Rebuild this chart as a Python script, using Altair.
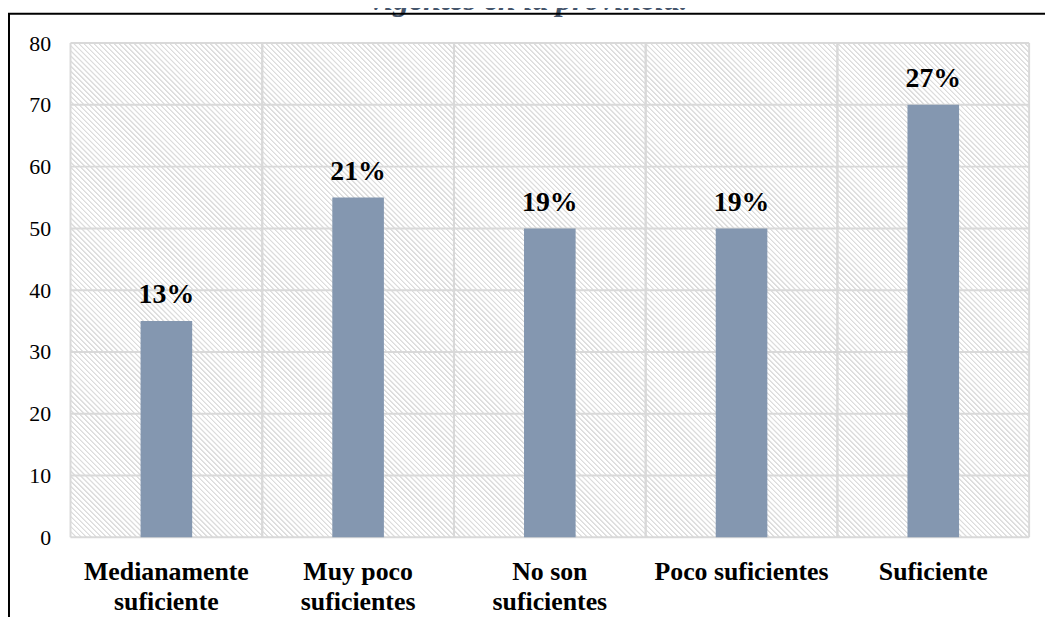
import math
import altair as alt
import pandas as pd

# ---- data ----
categories = ["Medianamente\nsuficiente", "Muy poco\nsuficientes", "No son\nsuficientes",
              "Poco suficientes", "Suficiente"]
values = [35, 55, 50, 50, 70]
pct_labels = ["13%", "21%", "19%", "19%", "27%"]
y_ticks = [0, 10, 20, 30, 40, 50, 60, 70, 80]
title_text = ["vigentes en la provincia."]

df = pd.DataFrame({"cat": categories, "value": values, "pct": pct_labels})
ticks_df = pd.DataFrame({"t": y_ticks})
one_df = pd.DataFrame({"title": title_text})

W, H = 966, 498
FONT = "Liberation Serif"
GRID = "#d9d9d9"
BAR = "#8497B0"

# ---- hatched plot background (diagonal stripes as a linear gradient) ----
r = H / W
tmax = (1 + r) / (1 + r * r)
D = (W + H) / math.sqrt(2)
period = 3.6
n = int(D / period)
stops = []
for k in range(n):
    o = k / n
    stops += [
        {"offset": o, "color": "#dcdcdc"},
        {"offset": o + 0.18 / n, "color": "#dcdcdc"},
        {"offset": o + 0.45 / n, "color": "#ffffff"},
        {"offset": o + 0.92 / n, "color": "#ffffff"},
    ]
hatch = {"gradient": "linear", "x1": 0, "y1": 1, "x2": tmax, "y2": 1 - tmax * r,
         "stops": stops}

xscale = alt.Scale(paddingInner=0, paddingOuter=0)
yscale = alt.Scale(domain=[0, 80], nice=False)
xaxis = alt.Axis(title=None, labelExpr="split(datum.label, '\\n')", labelFont=FONT,
                 labelFontSize=26, labelFontWeight="bold", labelColor="black",
                 labelPadding=22, labelLineHeight=30, labelAngle=0, ticks=False,
                 domain=False, grid=False)
yaxis = alt.Axis(title=None, values=y_ticks, labelFont=FONT, labelFontSize=22,
                 labelColor="black", labelPadding=20, ticks=False, domain=False,
                 grid=False)

def X(band=None):
    if band is None:
        return alt.X("cat:N", sort=categories, scale=xscale, axis=xaxis)
    return alt.X("cat:N", sort=categories, scale=xscale, axis=xaxis, bandPosition=band)

background = alt.Chart(one_df).mark_rect(fill=hatch).encode(
    x=alt.value(0), x2=alt.value("width"), y=alt.value(0), y2=alt.value("height"))

hgrid = alt.Chart(ticks_df).mark_rule(color=GRID, strokeWidth=2).encode(
    y=alt.Y("t:Q", scale=yscale, axis=yaxis), x=alt.value(0), x2=alt.value("width"))

vgrid0 = alt.Chart(df).mark_rule(color=GRID, strokeWidth=2).encode(
    x=X(0), y=alt.value(0), y2=alt.value("height"))
vgrid1 = alt.Chart(df).mark_rule(color=GRID, strokeWidth=2).encode(
    x=X(1), y=alt.value(0), y2=alt.value("height"))

bars = alt.Chart(df).mark_bar(color=BAR, size=52).encode(
    x=X(), y=alt.Y("value:Q", scale=yscale, axis=yaxis))

pct = alt.Chart(df).mark_text(font=FONT, fontSize=28, fontWeight="bold", color="black",
                              dy=-18, baseline="alphabetic").encode(
    x=X(), y=alt.Y("value:Q", scale=yscale, axis=yaxis), text="pct:N")

title = alt.Chart(one_df).mark_text(font=FONT, fontSize=32, fontWeight="bold",
                                    fontStyle="italic", color="#44546A",
                                    baseline="alphabetic", align="center").encode(
    x=alt.value(462), y=alt.value(-33.5), text="title:N")

frame = alt.Chart(one_df).mark_rect(filled=False, stroke="black", strokeWidth=2).encode(
    x=alt.value(-62), x2=alt.value(1200), y=alt.value(-29.5), y2=alt.value(900))

chart = alt.layer(background, hgrid, vgrid0, vgrid1, bars, pct, title, frame).properties(
    width=W, height=H,
    autosize=alt.AutoSizeParams(type="none"),
    padding={"left": 63, "top": 33, "right": 16, "bottom": 78},
).configure_view(strokeWidth=0)

chart.save("out.html", embed_options={"renderer": "svg", "actions": False})
